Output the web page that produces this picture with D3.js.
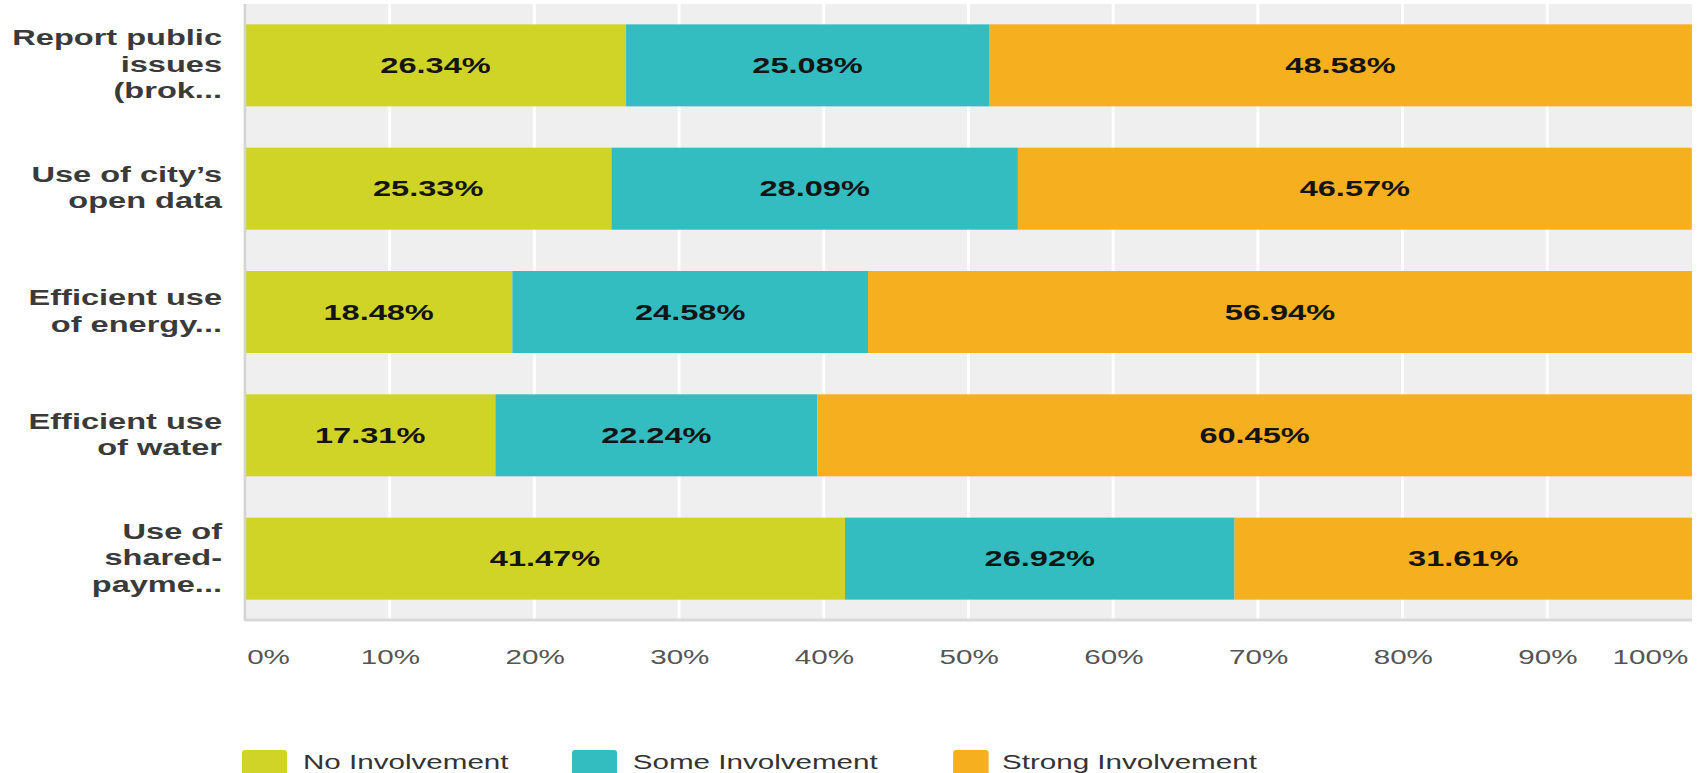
<!DOCTYPE html>
<html>
<head>
<meta charset="utf-8">
<script src="https://cdn.jsdelivr.net/npm/d3@7"></script>
<style>
  html, body { margin: 0; padding: 0; background: #ffffff; }
  svg { display: block; }
</style>
</head>
<body>
<div id="chart"></div>
<script>
// ---------- data ----------
const categoryLines = [
  ["Report public", "issues", "(brok..."],
  ["Use of city\u2019s", "open data"],
  ["Efficient use", "of energy..."],
  ["Efficient use", "of water"],
  ["Use of", "shared-", "payme..."]
];
const seriesNames = ["No Involvement", "Some Involvement", "Strong Involvement"];
const noInvolvement     = [26.34, 25.33, 18.48, 17.31, 41.47];
const someInvolvement   = [25.08, 28.09, 24.58, 22.24, 26.92];
const strongInvolvement = [48.58, 46.57, 56.94, 60.45, 31.61];
const tickValues = [0, 10, 20, 30, 40, 50, 60, 70, 80, 90, 100];
const tickLabels = ["0%", "10%", "20%", "30%", "40%", "50%", "60%", "70%", "80%", "90%", "100%"];
const colors = ["#d0d427", "#33bdc0", "#f6af1f"];

// ---------- layout (the original chart is stretched horizontally) ----------
const W = 1699, H = 773, STRETCH = 1.48;
const IW = W / STRETCH;          // internal width
const plotLeft = 165.5, plotRight = 1143.2, plotTop = 4, plotBottom = 620;
const labelRight = 150;
const legendSwatchX = [163.5, 386.5, 644];
const legendSwatchW = [30.4, 30.4, 24];
const legendTextX = [204.7, 427.5, 677];
const font = "'Liberation Sans', Arial, Helvetica, sans-serif";

const svg = d3.select("#chart").append("svg")
  .attr("width", W).attr("height", H)
  .attr("viewBox", `0 0 ${IW} ${H}`)
  .attr("preserveAspectRatio", "none")
  .style("font-family", font);

const x = d3.scaleLinear().domain([0, 100]).range([plotLeft, plotRight]);
const y = d3.scaleBand().domain(d3.range(categoryLines.length))
  .range([plotTop, plotBottom]).paddingInner(0.335).paddingOuter(0.165);

// plot background
svg.append("rect")
  .attr("x", plotLeft).attr("y", plotTop)
  .attr("width", plotRight - plotLeft).attr("height", plotBottom - plotTop)
  .attr("fill", "#efefef");

// gridlines
svg.append("g").selectAll("line")
  .data(tickValues.filter(d => d > 0 && d < 100))
  .join("line")
  .attr("x1", d => x(d)).attr("x2", d => x(d))
  .attr("y1", plotTop).attr("y2", plotBottom)
  .attr("stroke", "#ffffff").attr("stroke-width", 2);

// stacked bars
const table = categoryLines.map((c, i) => ({
  i, "No Involvement": noInvolvement[i], "Some Involvement": someInvolvement[i], "Strong Involvement": strongInvolvement[i]
}));
const stacked = d3.stack().keys(seriesNames)(table);

const groups = svg.append("g").selectAll("g")
  .data(stacked).join("g")
  .attr("fill", (d, k) => colors[k]);

groups.selectAll("rect")
  .data(d => d).join("rect")
  .attr("x", d => x(d[0]))
  .attr("y", d => y(d.data.i))
  .attr("width", d => x(d[1]) - x(d[0]))
  .attr("height", y.bandwidth());

groups.selectAll("text")
  .data(d => d).join("text")
  .attr("x", d => (x(d[0]) + x(d[1])) / 2)
  .attr("y", d => y(d.data.i) + y.bandwidth() / 2)
  .attr("dy", "0.35em")
  .attr("text-anchor", "middle")
  .attr("fill", "#141414")
  .attr("font-weight", "bold")
  .attr("font-size", 22)
  .text(d => (d[1] - d[0]).toFixed(2) + "%");

// left axis line
svg.append("line")
  .attr("x1", plotLeft).attr("x2", plotLeft)
  .attr("y1", plotTop).attr("y2", plotBottom + 1)
  .attr("stroke", "#d4d4d4").attr("stroke-width", 1.8);

// bottom axis line
svg.append("line")
  .attr("x1", plotLeft).attr("x2", plotRight)
  .attr("y1", plotBottom).attr("y2", plotBottom)
  .attr("stroke", "#d9d9d9").attr("stroke-width", 3);

// x axis tick labels
const xAxis = d3.axisBottom(x)
  .tickValues(tickValues)
  .tickSize(0)
  .tickPadding(0)
  .tickFormat((d, i) => tickLabels[i]);
const gx = svg.append("g")
  .attr("transform", `translate(0,${plotBottom})`)
  .call(xAxis);
gx.select(".domain").remove();
gx.selectAll("text")
  .attr("y", 44)
  .attr("dy", 0)
  .attr("fill", "#555555")
  .attr("font-size", 20)
  .attr("font-family", font)
  .attr("text-anchor", (d, i) => i === 0 ? "start" : (i === tickValues.length - 1 ? "end" : "middle"))
  .attr("dx", (d, i) => i === 0 ? 1 : (i === tickValues.length - 1 ? -3 : 0));

// category labels
const lineH = 26.5;
const cat = svg.append("g").selectAll("text")
  .data(categoryLines).join("text")
  .attr("text-anchor", "end")
  .attr("fill", "#3a3a3a")
  .attr("font-weight", "bold")
  .attr("font-size", 22);
cat.each(function (lines, i) {
  const cy = y(i) + y.bandwidth() / 2 + 6.5;
  d3.select(this).selectAll("tspan")
    .data(lines).join("tspan")
    .attr("x", labelRight)
    .attr("y", (l, j) => cy + (j - (lines.length - 1) / 2) * lineH)
    .text(l => l);
});

// legend
const legend = svg.append("g").selectAll("g")
  .data(seriesNames).join("g");
legend.append("rect")
  .attr("x", (d, k) => legendSwatchX[k])
  .attr("y", 750)
  .attr("width", (d, k) => legendSwatchW[k]).attr("height", 28)
  .attr("rx", 2).attr("ry", 3)
  .attr("fill", (d, k) => colors[k]);
legend.append("text")
  .attr("x", (d, k) => legendTextX[k])
  .attr("y", 769)
  .attr("fill", "#333333")
  .attr("font-size", 20)
  .text(d => d);
</script>
</body>
</html>
